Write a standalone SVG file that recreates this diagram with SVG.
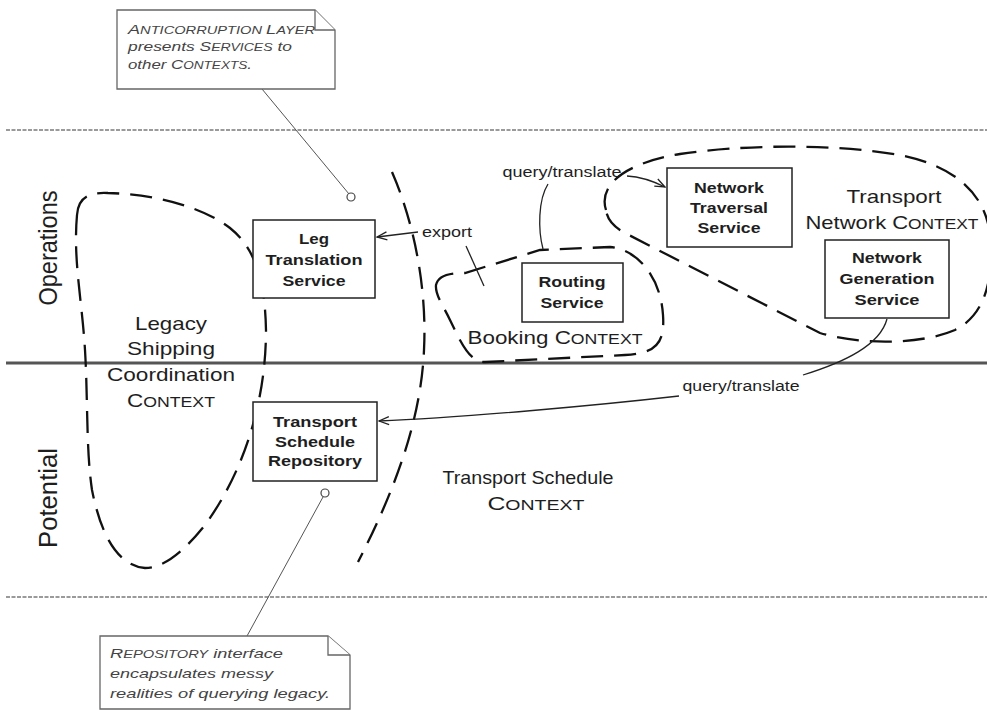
<svg xmlns="http://www.w3.org/2000/svg" width="987" height="711" viewBox="0 0 987 711">
<style>
text{font-family:"Liberation Sans",Arial,sans-serif;fill:#1e1e1e}
.box{fill:#fff;stroke:#222;stroke-width:1.5}
.nl{font-size:15px;font-weight:bold;text-anchor:middle}
.ctx{fill:none;stroke:#111;stroke-width:2.3;stroke-dasharray:22 11}
.cl{font-size:19px;text-anchor:middle}
.lane{fill:none;stroke:#9a9a9a;stroke-width:2;stroke-dasharray:4 1.5}
.edge{fill:none;stroke:#222;stroke-width:1.3}
.lbl{font-size:14px;text-anchor:middle}
.note{fill:#fff;stroke:#666;stroke-width:1.3}
.nt{font-size:13px;font-style:italic;fill:#444}
.anc{fill:none;stroke:#555;stroke-width:1}
.pin{fill:#fff;stroke:#444;stroke-width:1.2}
.sc{font-size:10.5px}
.sc2{font-size:15px}
</style>
<defs>
<marker id="open" viewBox="0 0 12 10" refX="11" refY="5" markerWidth="12" markerHeight="10" markerUnits="userSpaceOnUse" orient="auto">
<path d="M1,1 L11,5 L1,9" fill="none" stroke="#222" stroke-width="1.3"/>
</marker>
</defs>
<rect width="987" height="711" fill="#fff"/>

<g id="lanes">
<line class="lane" x1="6" y1="130" x2="987" y2="130"/>
<line x1="6" y1="363" x2="987" y2="363" stroke="#555" stroke-width="3"/>
<line class="lane" x1="6" y1="597" x2="987" y2="597"/>
<text transform="translate(57,248) rotate(-90)" font-size="25" text-anchor="middle" textLength="115" lengthAdjust="spacingAndGlyphs">Operations</text>
<text transform="translate(57,498) rotate(-90)" font-size="25" text-anchor="middle" textLength="100" lengthAdjust="spacingAndGlyphs">Potential</text>
</g>

<g id="context-legacy">
<path class="ctx" d="M77,215 C78,198 88,192 108,193 C150,194 200,205 230,228 C255,248 265,280 266,330 C266,400 245,470 205,525 C185,550 165,568 145,568 C115,565 100,530 92,490 C86,450 88,400 85,350 C82,300 73,260 77,215 Z"/>
<text class="cl" x="171" y="330" textLength="72" lengthAdjust="spacingAndGlyphs">Legacy</text>
<text class="cl" x="171" y="355" textLength="88" lengthAdjust="spacingAndGlyphs">Shipping</text>
<text class="cl" x="171" y="381" textLength="128" lengthAdjust="spacingAndGlyphs">Coordination</text>
<text class="cl" x="171" y="407" textLength="88" lengthAdjust="spacingAndGlyphs">C<tspan class="sc2">ONTEXT</tspan></text>
</g>

<g id="context-transport-schedule">
<path class="ctx" d="M392,172 C415,225 427,290 424,350 C421,420 395,490 358,562"/>
<text class="cl" x="528" y="484" textLength="171" lengthAdjust="spacingAndGlyphs">Transport Schedule</text>
<text class="cl" x="536" y="510" textLength="97" lengthAdjust="spacingAndGlyphs">C<tspan class="sc2">ONTEXT</tspan></text>
</g>

<g id="context-booking">
<path class="ctx" d="M436,285 C438,276 448,273 465,273 L540,250 L610,247 C640,250 661,280 663,315 C665,345 655,353 625,355 L485,362 C470,362 462,345 450,320 C443,305 435,295 436,285 Z"/>
<text class="cl" x="555" y="344" textLength="175" lengthAdjust="spacingAndGlyphs">Booking C<tspan class="sc2">ONTEXT</tspan></text>
</g>

<g id="context-transport-network">
<path class="ctx" d="M606,210 C598,185 625,163 680,154 C740,145 830,143 900,155 C950,165 985,190 990,235 C994,280 985,315 955,330 C920,345 860,345 820,333 L625,233 C612,226 607,218 606,210 Z"/>
<text class="cl" x="894" y="203" textLength="95" lengthAdjust="spacingAndGlyphs">Transport</text>
<text class="cl" x="892" y="229" textLength="173" lengthAdjust="spacingAndGlyphs">Network C<tspan class="sc2">ONTEXT</tspan></text>
</g>

<g id="connectors">
<path class="edge" d="M418,232 L377,237" marker-end="url(#open)"/>
<path class="edge" d="M466,246 L484,286"/>
<path class="edge" d="M548,184 C538,200 538,230 543,249"/>
<path class="edge" d="M627,176 Q645,177 665,187" marker-end="url(#open)"/>
<path class="edge" d="M887,319 C880,345 845,362 803,375"/>
<path class="edge" d="M679,396 C600,405 460,418 379,421" marker-end="url(#open)"/>
<text class="lbl" x="447" y="237" textLength="50" lengthAdjust="spacingAndGlyphs">export</text>
<text class="lbl" x="562" y="177" textLength="119" lengthAdjust="spacingAndGlyphs">query/translate</text>
<text class="lbl" x="741" y="391" textLength="117" lengthAdjust="spacingAndGlyphs">query/translate</text>
<line class="anc" x1="262" y1="89" x2="349" y2="194"/>
<circle class="pin" cx="351" cy="197" r="4"/>
<line class="anc" x1="323" y1="497" x2="247" y2="636"/>
<circle class="pin" cx="325" cy="493" r="4"/>
</g>

<g id="leg-translation-service">
<rect class="box" x="253" y="220" width="122" height="78"/>
<text class="nl" x="314" y="244" textLength="30" lengthAdjust="spacingAndGlyphs">Leg</text>
<text class="nl" x="314" y="265" textLength="97" lengthAdjust="spacingAndGlyphs">Translation</text>
<text class="nl" x="314" y="286" textLength="63" lengthAdjust="spacingAndGlyphs">Service</text>
</g>

<g id="routing-service">
<rect class="box" x="522" y="263" width="101" height="59"/>
<text class="nl" x="572" y="287" textLength="67" lengthAdjust="spacingAndGlyphs">Routing</text>
<text class="nl" x="572" y="308" textLength="63" lengthAdjust="spacingAndGlyphs">Service</text>
</g>

<g id="network-traversal-service">
<rect class="box" x="667" y="168" width="125" height="79"/>
<text class="nl" x="729" y="193" textLength="70" lengthAdjust="spacingAndGlyphs">Network</text>
<text class="nl" x="729" y="213" textLength="78" lengthAdjust="spacingAndGlyphs">Traversal</text>
<text class="nl" x="729" y="233" textLength="63" lengthAdjust="spacingAndGlyphs">Service</text>
</g>

<g id="network-generation-service">
<rect class="box" x="825" y="240" width="124" height="78"/>
<text class="nl" x="887" y="263" textLength="70" lengthAdjust="spacingAndGlyphs">Network</text>
<text class="nl" x="887" y="284" textLength="95" lengthAdjust="spacingAndGlyphs">Generation</text>
<text class="nl" x="887" y="305" textLength="65" lengthAdjust="spacingAndGlyphs">Service</text>
</g>

<g id="transport-schedule-repository">
<rect class="box" x="253" y="402" width="124" height="79"/>
<text class="nl" x="315" y="427" textLength="84" lengthAdjust="spacingAndGlyphs">Transport</text>
<text class="nl" x="315" y="447" textLength="80" lengthAdjust="spacingAndGlyphs">Schedule</text>
<text class="nl" x="315" y="466" textLength="94" lengthAdjust="spacingAndGlyphs">Repository</text>
</g>

<g id="note-anticorruption">
<path class="note" d="M117,10 L315,10 L335,30 L335,89 L117,89 Z"/>
<path class="note" d="M315,10 L315,30 L335,30" fill="none"/>
<text class="nt" x="128" y="34" textLength="187" lengthAdjust="spacingAndGlyphs">A<tspan class="sc">NTICORRUPTION </tspan>L<tspan class="sc">AYER</tspan></text>
<text class="nt" x="128" y="51" textLength="164" lengthAdjust="spacingAndGlyphs">presents S<tspan class="sc">ERVICES</tspan> to</text>
<text class="nt" x="128" y="69" textLength="124" lengthAdjust="spacingAndGlyphs">other C<tspan class="sc">ONTEXTS</tspan>.</text>
</g>

<g id="note-repository">
<path class="note" d="M100,636 L328,636 L350,655 L350,709 L100,709 Z"/>
<path class="note" d="M328,636 L328,655 L350,655" fill="none"/>
<text class="nt" x="110" y="658" textLength="173" lengthAdjust="spacingAndGlyphs">R<tspan class="sc">EPOSITORY</tspan> interface</text>
<text class="nt" x="110" y="678" textLength="163" lengthAdjust="spacingAndGlyphs">encapsulates messy</text>
<text class="nt" x="110" y="698" textLength="220" lengthAdjust="spacingAndGlyphs">realities of querying legacy.</text>
</g>
</svg>
